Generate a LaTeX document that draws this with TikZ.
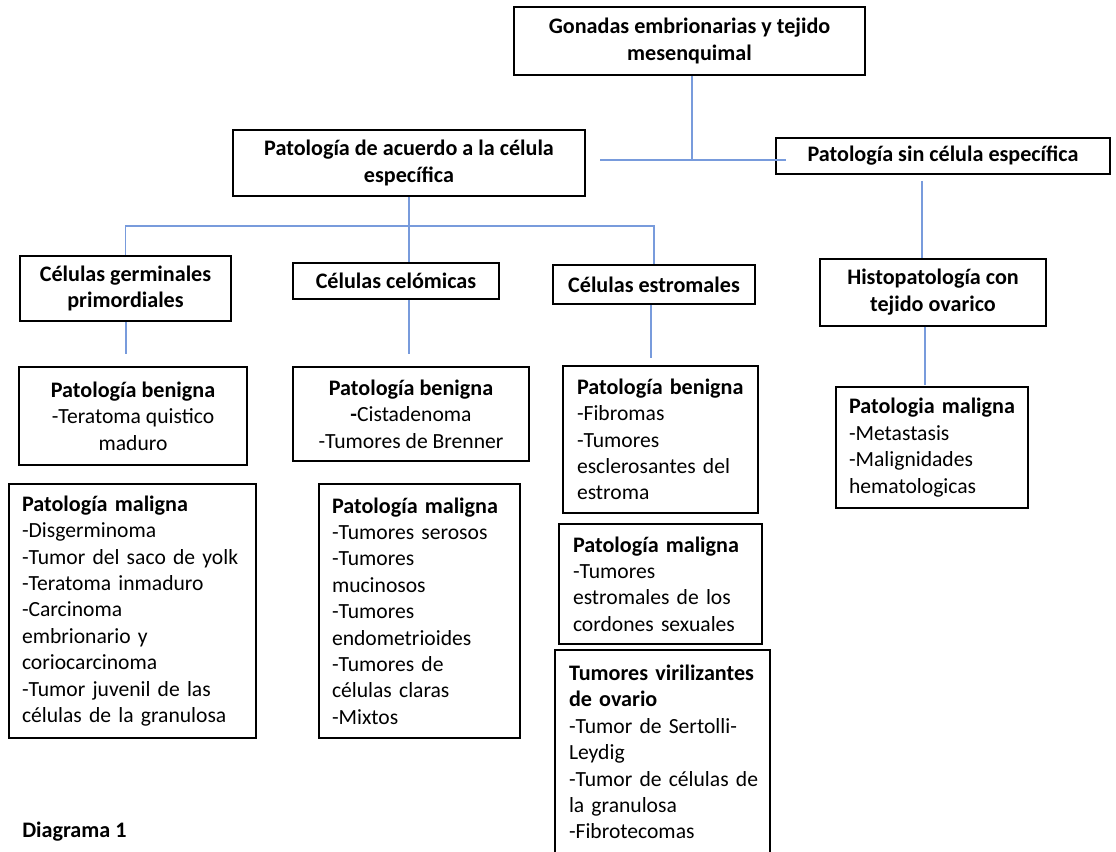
\documentclass[tikz,border=0pt]{standalone}
\usepackage{fontspec}
\setmainfont{Carlito}
\definecolor{connc}{RGB}{120,155,220}
\newcommand\bodyfont{\fontsize{16.2}{19.8}\selectfont}
\newcommand\headfont{\fontsize{16.6}{19.8}\selectfont\bfseries}
\newcommand\hd[1]{\mbox{\headfont #1}}
\begin{document}
\begin{tikzpicture}[x=0.75pt,y=-0.75pt,
  box/.style={draw, line width=1.5pt, fill=white, inner sep=0pt, font=\bodyfont},
  hbox/.style={box, align=center, font=\headfont},
  cbox/.style={box, align=center},
  lbox/.style={box, align=left},
  conn/.style={draw=connc, line width=0.9pt}]
\path[use as bounding box] (0,0) rectangle (1116,852);
\clip (0,0) rectangle (1116,852);

% level 0
\node[hbox, minimum width=263.25pt, minimum height=51pt] (gon) at (689.5,41)
  {Gonadas embrionarias y tejido\\mesenquimal};
% level 1
\node[hbox, minimum width=264pt, minimum height=49.5pt] (acu) at (409,163)
  {Patología de acuerdo a la célula\\específica};
\node[hbox, minimum width=250.5pt, minimum height=27pt] (sin) at (943,156)
  {Patología sin célula específica};
% level 2
\node[hbox, minimum width=158.25pt, minimum height=48.75pt] (ger) at (125.5,288.5)
  {Células germinales\\primordiales};
\node[hbox, minimum width=154.5pt, minimum height=27pt] (cel) at (396,281)
  {Células celómicas};
\node[hbox, minimum width=151.5pt, minimum height=29.25pt] (est) at (654,284.5)
  {Células estromales};
\node[hbox, minimum width=169.5pt, minimum height=50.25pt] (his) at (933,292)
  {Histopatología con\\tejido ovarico};
% level 3
\node[cbox, minimum width=171pt, minimum height=73.5pt] (gb) at (133,416)
  {\hd{Patología benigna}\\-Teratoma quistico\\maduro};
\node[cbox, minimum width=177pt, minimum height=70.5pt] (cb) at (411,414)
  {\hd{Patología benigna}\\\textbf{-}Cistadenoma\\-Tumores de Brenner};
\node[lbox, text width=165.75pt, inner xsep=9.75pt, minimum height=190.5pt] (gm) at (132.5,611)
  {\hd{Patología maligna}\\-Disgerminoma\\\mbox{-Tumor del saco de yolk}\\-Teratoma inmaduro\\-Carcinoma\\embrionario y\\coriocarcinoma\\-Tumor juvenil de las\\\mbox{células de la granulosa}};
\node[lbox, text width=131.25pt, inner xsep=9.75pt, minimum height=190.5pt] (cm) at (419.5,611)
  {\hd{Patología maligna}\\-Tumores serosos\\-Tumores\\mucinosos\\-Tumores\\endometrioides\\-Tumores de\\células claras\\-Mixtos};
\node[lbox, text width=125.25pt, inner xsep=10.5pt, minimum height=110.25pt] (eb) at (660.5,439.5)
  {\hd{Patología benigna}\\-Fibromas\\-Tumores\\\mbox{esclerosantes del}\\estroma};
\node[lbox, text width=131.25pt, inner xsep=10.5pt, minimum height=90pt] (em) at (660.5,584)
  {\hd{Patología maligna}\\-Tumores\\\mbox{estromales de los}\\\mbox{cordones sexuales}};
\node[lbox, text width=140.25pt, inner xsep=10.5pt, minimum height=153pt] (vir) at (662.5,752)
  {\hd{Tumores virilizantes}\\\hd{de ovario}\\-Tumor de Sertolli-\\Leydig\\\mbox{-Tumor de células de}\\la granulosa\\-Fibrotecomas};
\node[lbox, text width=124.5pt, inner xsep=9.75pt, minimum height=90.75pt] (hm) at (932,447.5)
  {\hd{Patologia maligna}\\-Metastasis\\-Malignidades\\hematologicas};

\node[anchor=west, inner sep=0pt, font=\headfont] (cap) at (22,832) {Diagrama 1};

% connector coordinates
\coordinate (j0) at (692,160);
\coordinate (hl) at (600,160);
\coordinate (hr) at (786,160);
\coordinate (hb) at (409,226);
\coordinate (g1) at (126,354);
\coordinate (c1) at (409,354);
\coordinate (e1) at (651,358);
\coordinate (s0) at (922,181);
\coordinate (s1) at (922,258);
\coordinate (h1) at (925,385);

% connectors
\draw[conn] (gon.south -| j0) -- (j0);
\draw[conn] (hl) -- (j0) -- (hr);
\draw[conn] (acu.south) -- (acu.south |- cel.north);
\draw[conn] (ger.north) |- (hb) -| (est.north);
\draw[conn] (ger.south -| g1) -- (g1);
\draw[conn] (cel.south -| c1) -- (c1);
\draw[conn] (est.south -| e1) -- (e1);
\draw[conn] (s0) -- (s1);
\draw[conn] (his.south -| h1) -- (h1);
\end{tikzpicture}
\end{document}
